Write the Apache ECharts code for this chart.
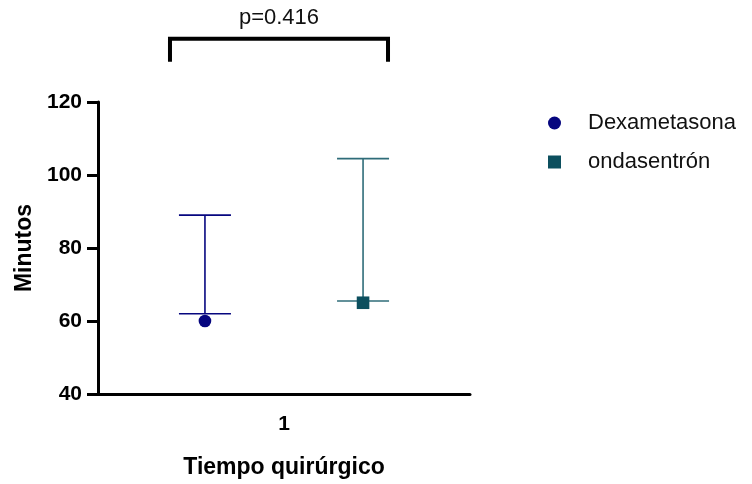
<!DOCTYPE html>
<html>
<head>
<meta charset="utf-8">
<script src="https://cdn.jsdelivr.net/npm/echarts@6/dist/echarts.min.js"></script>
<style>
  html, body { margin: 0; padding: 0; background: #fff; }
  #main { width: 752px; height: 484px; }
</style>
</head>
<body>
<div id="main"></div>
<script>
// datos
const categories = ['1'];
const groupNames = ['Dexametasona', 'ondasentrón'];
const centerValues = [60, 65];     // punto
const lowValues = [62, 65.5];      // bigote inferior
const highValues = [89, 104.5];    // bigote superior
const yTicks = [40, 60, 80, 100, 120];
const pText = 'p=0.416';
const bracketY = [131, 137.3];     // patas / barra del corchete
const pTextY = 143;

// estilo
const colors = ['#06067f', '#0c4f5e'];
const lineColors = ['#06067f', '#2f6c79'];
const offsets = [-0.2125, 0.2125];
const symbols = ['circle', 'rect'];
const font = '"Liberation Sans", Arial, sans-serif';

let chart = echarts.init(document.getElementById('main'), null, { renderer: 'canvas' });

function errorSeries(i) {
  return {
    name: groupNames[i],
    type: 'custom',
    itemStyle: { color: colors[i] },
    data: [[0, lowValues[i], highValues[i], centerValues[i]]],
    renderItem: function (params, api) {
      const bandW = api.size([1, 0])[0];
      const base = api.coord([api.value(0), api.value(3)]);
      const x = base[0] + offsets[i] * bandW;
      const yLow = api.coord([0, api.value(1)])[1];
      const yHigh = api.coord([0, api.value(2)])[1];
      const yMid = base[1];
      const cap = 26;
      const ls = { stroke: lineColors[i], lineWidth: 1.6 };
      const children = [
        { type: 'line', shape: { x1: x, y1: yLow, x2: x, y2: yHigh }, style: ls },
        { type: 'line', shape: { x1: x - cap, y1: yLow, x2: x + cap, y2: yLow }, style: ls },
        { type: 'line', shape: { x1: x - cap, y1: yHigh, x2: x + cap, y2: yHigh }, style: ls }
      ];
      if (symbols[i] === 'circle') {
        children.push({ type: 'circle', shape: { cx: x, cy: yMid, r: 6.3 }, style: { fill: colors[i] } });
      } else {
        children.push({ type: 'rect', shape: { x: x - 6.3, y: yMid - 6.3, width: 12.6, height: 12.6 }, style: { fill: colors[i] } });
      }
      return { type: 'group', children: children };
    }
  };
}

let option = {
  animation: false,
  backgroundColor: '#fff',
  grid: { left: 98, right: 282, top: 102, bottom: 90 },
  legend: {
    orient: 'vertical',
    left: 543,
    top: 107,
    itemWidth: 13,
    itemHeight: 13,
    itemGap: 17,
    data: [
      { name: groupNames[0], icon: 'circle' },
      { name: groupNames[1], icon: 'rect' }
    ],
    textStyle: { fontFamily: font, fontSize: 22, color: '#111', padding: [0, 0, 0, 22] }
  },
  xAxis: {
    type: 'category',
    data: categories,
    boundaryGap: true,
    name: 'Tiempo quirúrgico',
    nameLocation: 'middle',
    nameGap: 62,
    nameTextStyle: { fontFamily: font, fontSize: 23, fontWeight: 'bold', color: '#000' },
    axisLine: { lineStyle: { color: '#000', width: 3 } },
    axisTick: { alignWithLabel: true, length: 12, lineStyle: { color: '#000', width: 3 } },
    axisLabel: { fontFamily: font, fontSize: 21, fontWeight: 'bold', color: '#000', margin: 20 },
    splitLine: { show: false }
  },
  yAxis: {
    type: 'value',
    min: yTicks[0],
    max: yTicks[yTicks.length - 1],
    interval: 20,
    name: 'Minutos',
    nameLocation: 'middle',
    nameGap: 62,
    nameTextStyle: { fontFamily: font, fontSize: 23, fontWeight: 'bold', color: '#000' },
    axisLine: { show: true, lineStyle: { color: '#000', width: 3 } },
    axisTick: { show: true, length: 11, lineStyle: { color: '#000', width: 3 } },
    axisLabel: { fontFamily: font, fontSize: 21, fontWeight: 'bold', color: '#000', margin: 16 },
    splitLine: { show: false }
  },
  series: [
    errorSeries(0),
    errorSeries(1),
    {
      // corchete con el valor p
      type: 'custom',
      silent: true,
      clip: false,
      data: [[0, bracketY[0], bracketY[1], pTextY]],
      renderItem: function (params, api) {
        const bandW = api.size([1, 0])[0];
        const c = api.coord([api.value(0), api.value(2)]);
        const xl = c[0] - 0.3065 * bandW;
        const xr = c[0] + 0.2796 * bandW;
        const yTop = c[1];
        const yLeg = api.coord([0, api.value(1)])[1];
        const yTxt = api.coord([0, api.value(3)])[1];
        return {
          type: 'group',
          children: [
            {
              type: 'polyline',
              shape: { points: [[xl, yLeg], [xl, yTop], [xr, yTop], [xr, yLeg]] },
              style: { stroke: '#000', lineWidth: 4, fill: null, lineJoin: 'miter' }
            },
            {
              type: 'text',
              x: (xl + xr) / 2, y: yTxt,
              style: { text: pText, fill: '#111', font: '22px ' + font, align: 'center', verticalAlign: 'middle' }
            }
          ]
        };
      }
    }
  ]
};

chart.setOption(option);
</script>
</body>
</html>
